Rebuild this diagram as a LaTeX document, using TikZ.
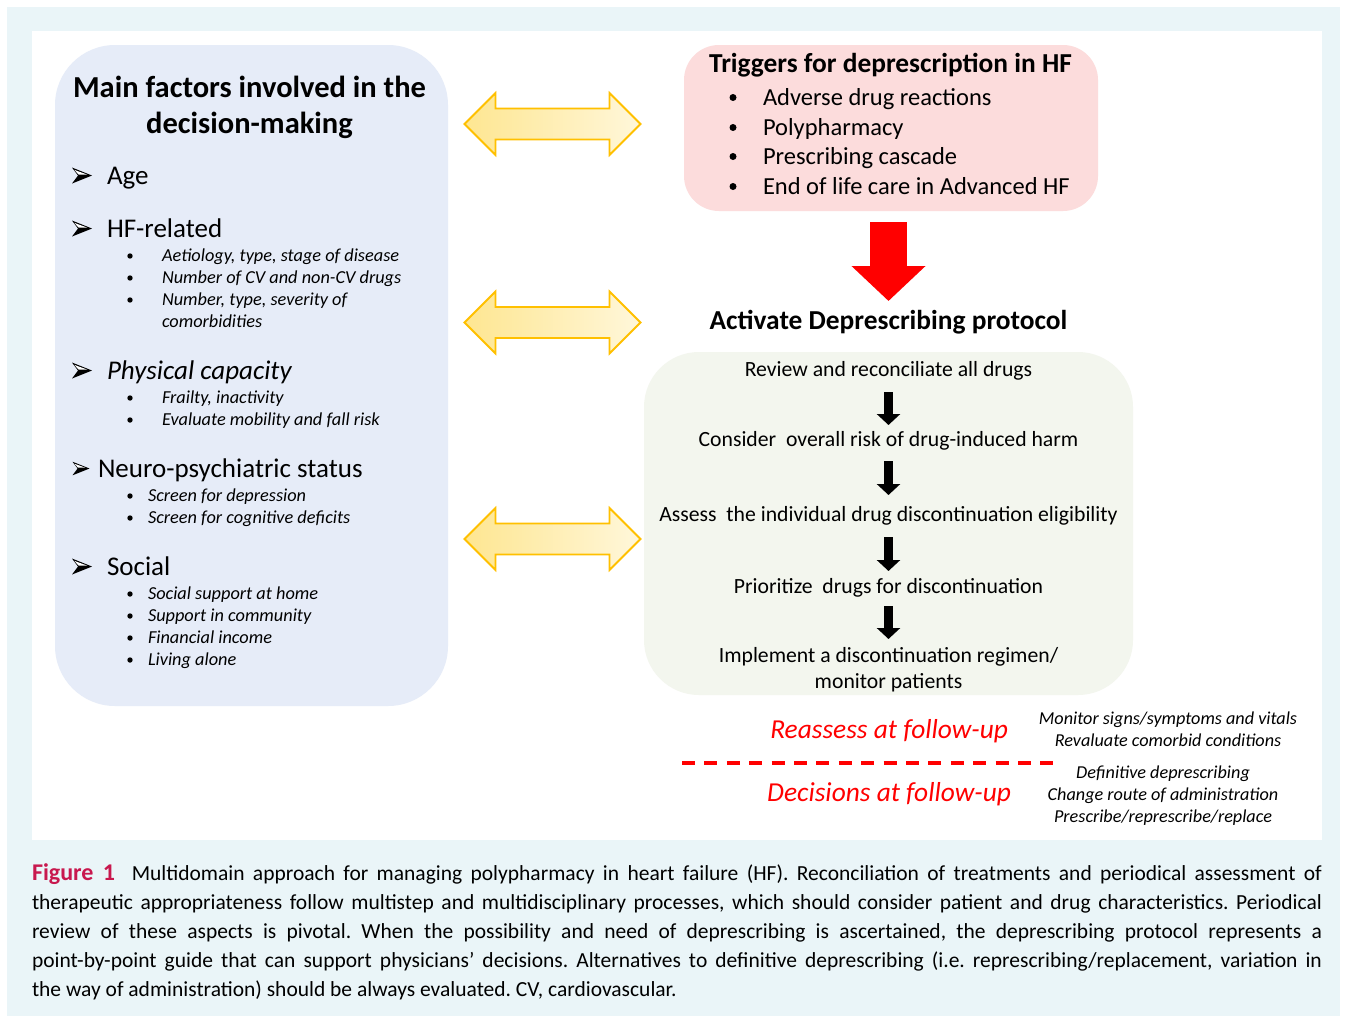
\documentclass[tikz,border=0pt]{standalone}
\usepackage{fontspec}
\setmainfont{Carlito}
\usetikzlibrary{arrows.meta}
\definecolor{bgblue}{RGB}{234,245,248}
\definecolor{panelblue}{RGB}{230,236,248}
\definecolor{pinkbox}{RGB}{252,220,220}
\definecolor{greenbox}{RGB}{243,246,238}
\definecolor{gold}{RGB}{255,192,0}
\definecolor{yelL}{RGB}{254,230,145}
\definecolor{yelR}{RGB}{255,247,218}
\definecolor{figred}{RGB}{200,24,78}
\frenchspacing
\begin{document}
\begin{tikzpicture}[x=1pt,y=-1pt,
  every node/.style={inner sep=0pt, outer sep=0pt},
  panel/.style={rounded corners=#1, draw=none},
  ttl/.style={font=\bfseries\fontsize{30.5}{36}\selectfont, anchor=base},
  lvl/.style={font=\fontsize{27}{32}\selectfont, anchor=base west},
  lvli/.style={font=\itshape\fontsize{27}{32}\selectfont, anchor=base west},
  sub/.style={font=\itshape\fontsize{18.3}{22}\selectfont, anchor=base west},
  subbul/.style={circle, fill=black, minimum size=5.4pt},
  trtitle/.style={font=\bfseries\fontsize{27.4}{32}\selectfont},
  tritem/.style={font=\fontsize{24.5}{29}\selectfont, anchor=base west},
  trbul/.style={circle, fill=black, minimum size=7pt},
  stepnode/.style={font=\fontsize{21.7}{26}\selectfont, text height=16pt, text depth=5pt},
  blk/.style={line width=9pt, -{Triangle[width=23pt,length=11pt]}},
  bigred/.style={red, line width=37pt, -{Triangle[width=72pt,length=35pt]}},
  follow/.style={font=\itshape\fontsize{27.4}{32}\selectfont, text=red, anchor=base east},
  note/.style={font=\itshape\fontsize{18.2}{22}\selectfont, anchor=base},
  capline/.style={font=\fontsize{21.5}{29}\selectfont, anchor=base west},
  ahead/.pic={\fill[black] (-10,-8) -- (10,0) -- (-10,8) -- (-4,0) -- cycle;
              \fill[white] (-7.6,-5.6) -- (5.2,-0.9) -- (-3.4,-0.9) -- cycle;},
  dblarrow/.pic={\draw[gold, line width=1.8pt, line join=miter, left color=yelL, right color=yelR]
      (-88,0) -- (-57,-31) -- (-57,-15.5) -- (57,-15.5) -- (57,-31) -- (88,0) -- (57,31)
      -- (57,15.5) -- (-57,15.5) -- (-57,31) -- cycle;}
]
\useasboundingbox (0,0) rectangle (1346,1023);
\fill[white] (0,0) rectangle (1346,1023);
\fill[bgblue] (7,7) rectangle (1340,1016);
\fill[white] (32,31) rectangle (1322,840);

% ---------- left panel ----------
\node[panel=60pt, fill=panelblue, minimum width=393pt, minimum height=661pt] (factors) at (251.5,375.5) {};
\node[ttl] (t1) at (249.5,97) {Main factors involved in the};
\node[ttl] (t2) at (249.5,133) {decision-making};

\pic at (82,175.5) {ahead};
\node[lvl] (age) at (107,184) {Age};

\pic at (82,228.5) {ahead};
\node[lvl] (hf) at (107,237) {HF-related};
\node[subbul] (b1) at (130,256) {};
\node[sub] (hf1) at (162,261.5) {Aetiology, type, stage of disease};
\node[subbul] (b2) at (130,278) {};
\node[sub] (hf2) at (162,283.5) {Number of CV and non-CV drugs};
\node[subbul] (b3) at (130,300) {};
\node[sub] (hf3) at (162,305.5) {Number, type, severity of};
\node[sub] (hf4) at (162,327.5) {comorbidities};

\pic at (82,370.5) {ahead};
\node[lvli] (phy) at (107,379) {Physical capacity};
\node[subbul] (b4) at (130,398) {};
\node[sub] (phy1) at (162,403.5) {Frailty, inactivity};
\node[subbul] (b5) at (130,420) {};
\node[sub] (phy2) at (162,425.5) {Evaluate mobility and fall risk};

\pic[scale=0.85] at (81,468.5) {ahead};
\node[lvl] (neu) at (98,477) {Neuro-psychiatric status};
\node[subbul] (b6) at (130,496) {};
\node[sub] (neu1) at (148,501.5) {Screen for depression};
\node[subbul] (b7) at (130,518) {};
\node[sub] (neu2) at (148,523.5) {Screen for cognitive deficits};

\pic at (82,566.5) {ahead};
\node[lvl] (soc) at (107,575) {Social};
\node[subbul] (b8) at (130,594) {};
\node[sub] (soc1) at (148,599.5) {Social support at home};
\node[subbul] (b9) at (130,616) {};
\node[sub] (soc2) at (148,621.5) {Support in community};
\node[subbul] (b10) at (130,638) {};
\node[sub] (soc3) at (148,643.5) {Financial income};
\node[subbul] (b11) at (130,660) {};
\node[sub] (soc4) at (148,665.5) {Living alone};

% ---------- double arrows ----------
\pic at (552.5,124) {dblarrow};
\pic at (552.5,322.5) {dblarrow};
\pic at (552.5,539) {dblarrow};

% ---------- triggers ----------
\node[panel=35pt, fill=pinkbox, minimum width=414pt, minimum height=166pt] (trig) at (891,128) {};
\node[trtitle, anchor=base] (trt) at (890.5,72) {Triggers for deprescription in HF};
\node[trbul] (tb1) at (733,97.5) {};
\node[tritem] (tr1) at (763,105) {Adverse drug reactions};
\node[trbul] (tb2) at (733,127.5) {};
\node[tritem] (tr2) at (763,135) {Polypharmacy};
\node[trbul] (tb3) at (733,156.5) {};
\node[tritem] (tr3) at (763,164) {Prescribing cascade};
\node[trbul] (tb4) at (733,186.5) {};
\node[tritem] (tr4) at (763,194) {End of life care in Advanced HF};

% ---------- activate ----------
\node[trtitle, text height=19pt, text depth=4pt] (act) at (888.5,322) {Activate Deprescribing protocol};
\draw[bigred, shorten <=11pt, shorten >=21pt] (trig.south -| act.center) -- (act.center);

% ---------- protocol steps ----------
\node[panel=55pt, fill=greenbox, minimum width=489pt, minimum height=343pt] (proto) at (888.5,523.5) {};
\node[stepnode] (s1) at (888.5,371) {Review and reconciliate all drugs};
\node[stepnode] (s2) at (888.5,441) {Consider\ \ overall risk of drug-induced harm};
\node[stepnode] (s3) at (888.5,516) {Assess\ \ the individual drug discontinuation eligibility};
\node[stepnode] (s4) at (888.5,588) {Prioritize\ \ drugs for discontinuation};
\node[font=\fontsize{21.7}{26}\selectfont, align=center, anchor=base] (s5) at (888.5,688.5)
   {Implement a discontinuation regimen/\\monitor patients};
\draw[blk, shorten <=21pt, shorten >=16pt] (s1.center) -- (s2.center);
\draw[blk, shorten <=20pt, shorten >=21pt] (s2.center) -- (s3.center);
\draw[blk, shorten <=21pt, shorten >=17pt] (s3.center) -- (s4.center);
\draw[blk, shorten <=18pt, shorten >=49.5pt] (s4.center) -- (s5.base);

% ---------- follow-up ----------
\node[follow] (re) at (1008,738) {Reassess at follow-up};
\node[follow] (de) at (1011,801) {Decisions at follow-up};
\coordinate (dl) at (682,763);
\coordinate (dr) at (1056,763);
\draw[red, line width=3.2pt, dash pattern=on 13pt off 9.4pt] (dl) -- (dr);
\node[note] (n1) at (1168,724.5) {Monitor signs/symptoms and vitals};
\node[note] (n2) at (1168,746.5) {Revaluate comorbid conditions};
\node[note] (n3) at (1163,778.5) {Definitive deprescribing};
\node[note] (n4) at (1163,800.5) {Change route of administration};
\node[note] (n5) at (1163,822.5) {Prescribe/represcribe/replace};

% ---------- caption ----------
\node[capline] (c1) at (32,880) {\makebox[1290pt][s]{{\color{figred}\bfseries\fontsize{24}{29}\selectfont Figure 1}\ \ Multidomain approach for managing polypharmacy in heart failure (HF). Reconciliation of treatments and periodical assessment of}};
\node[capline] (c2) at (32,909.5) {\makebox[1290pt][s]{therapeutic appropriateness follow multistep and multidisciplinary processes, which should consider patient and drug characteristics. Periodical}};
\node[capline] (c3) at (32,938.5) {\makebox[1290pt][s]{review of these aspects is pivotal. When the possibility and need of deprescribing is ascertained, the deprescribing protocol represents a}};
\node[capline] (c4) at (32,967.5) {\makebox[1290pt][s]{point-by-point guide that can support physicians’ decisions. Alternatives to definitive deprescribing (i.e. represcribing/replacement, variation in}};
\node[capline] (c5) at (32,996.5) {the way of administration) should be always evaluated. CV, cardiovascular.};
\end{tikzpicture}
\end{document}
